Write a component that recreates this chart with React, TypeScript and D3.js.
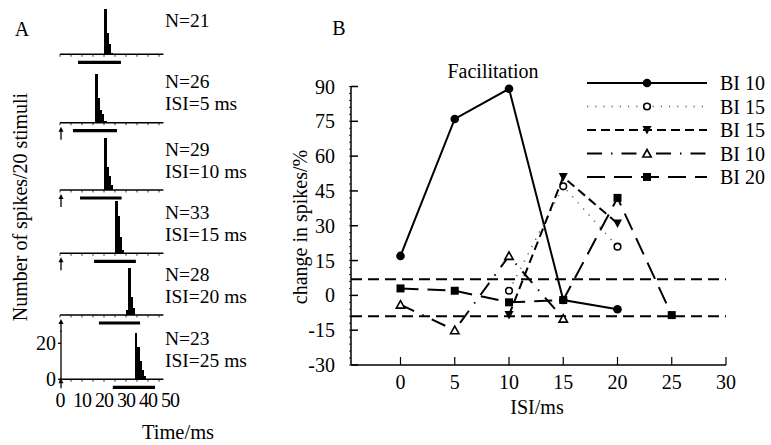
import React from 'react';
import * as d3 from 'd3';

// ---------- Panel B data ----------
const isiTicks = [0, 5, 10, 15, 20, 25, 30];
const changeTicks = [-30, -15, 0, 15, 30, 45, 60, 75, 90];
const legendNames = ['BI 10', 'BI 15', 'BI 15', 'BI 10', 'BI 20'];
const bi10SolidX = [0, 5, 10, 15, 20];
const bi10SolidY = [17, 76, 89, -2, -6];
const bi15DotX = [10, 15, 20];
const bi15DotY = [2, 47, 21];
const bi15DashX = [10, 15, 20];
const bi15DashY = [-8.5, 51, 31];
const bi10DashDotX = [0, 5, 10, 15];
const bi10DashDotY = [-4, -15, 17, -10];
const bi20LongX = [0, 5, 10, 15, 20, 25];
const bi20LongY = [3, 2, -3, -2, 42, -8.5];
const thresholds = [7, -9];

// ---------- Panel A data ----------
const histN = [21, 26, 29, 33, 28, 23];
const histISI = [null, 5, 10, 15, 20, 25];
const histStart = [20, 16, 20, 25, 30, 34];
const histCounts = [
  [25, 12, 6, 1],
  [27, 14, 7, 5, 1],
  [29, 13, 8, 3],
  [29, 21, 9, 2],
  [3, 26, 10, 4],
  [26, 18, 10, 5, 2],
];
const stimOn = [8.2, 5.9, 9.1, 15.5, 17.7, 24];
const stimOff = [27.7, 25.9, 28, 34.5, 36.4, 43.2];
const timeTicks = [0, 10, 20, 30, 40, 50];
const countTicks = [0, 20];

const FONT = '"Liberation Serif", "Times New Roman", serif';

type Marker = 'circle' | 'ocircle' | 'tridown' | 'otri' | 'square';

function MarkerShape({ kind, x, y }: { kind: Marker; x: number; y: number }) {
  if (kind === 'circle') return <circle cx={x} cy={y} r={4.3} fill="#000" />;
  if (kind === 'ocircle')
    return <circle cx={x} cy={y} r={3.3} fill="#fff" stroke="#000" strokeWidth={1.6} />;
  if (kind === 'square')
    return <rect x={x - 4} y={y - 4} width={8} height={8} fill="#000" />;
  if (kind === 'tridown')
    return <path d={`M${x - 4.5},${y - 4} L${x + 4.5},${y - 4} L${x},${y + 4.5} Z`} fill="#000" />;
  return (
    <path
      d={`M${x - 4.2},${y + 3.5} L${x + 4.2},${y + 3.5} L${x},${y - 4} Z`}
      fill="#fff"
      stroke="#000"
      strokeWidth={1.6}
    />
  );
}

export default function App() {
  // Panel B scales
  const xB = d3.scaleLinear().domain([0, 30]).range([400.5, 726]);
  const yB = d3.scaleLinear().domain([-30, 90]).range([365, 86.5]);
  const axisX0 = 351;

  const series = [
    { xs: bi10SolidX, ys: bi10SolidY, dash: undefined, marker: 'circle' as Marker, stroke: '#000', sw: 2 },
    { xs: bi15DotX, ys: bi15DotY, dash: '1.2,7', marker: 'ocircle' as Marker, stroke: '#666', sw: 1.6 },
    { xs: bi15DashX, ys: bi15DashY, dash: '9,5', marker: 'tridown' as Marker, stroke: '#000', sw: 2 },
    { xs: bi10DashDotX, ys: bi10DashDotY, dash: '15,9,1.5,9', marker: 'otri' as Marker, stroke: '#000', sw: 2 },
    { xs: bi20LongX, ys: bi20LongY, dash: '18,9', marker: 'square' as Marker, stroke: '#000', sw: 2 },
  ];
  const line = d3
    .line<[number, number]>()
    .x((d) => xB(d[0]))
    .y((d) => yB(d[1]));

  // Panel A scales
  const xA = d3.scaleLinear().domain([0, 50]).range([60, 170]);
  const yA = d3.scaleLinear().domain([0, 20]).range([0, 36]);
  const rowBase = [54.3, 122.7, 190, 253.3, 315, 379.3];
  const binW = xA(1) - xA(0);
  const minorTicks = d3.range(0, 48, 5);
  const yMinor = d3.range(-30, 91, 3);

  return (
    <svg
      width={771}
      height={445}
      style={{ position: 'absolute', left: 0, top: 0, background: '#fff' }}
      fontFamily={FONT}
      fontSize={20}
    >
      <rect width={771} height={445} fill="#fff" />

      {/* ---------------- Panel A ---------------- */}
      <text x={22} y={36} textAnchor="middle">A</text>
      <text transform="translate(20,207) rotate(-90)" textAnchor="middle" dominantBaseline="central">
        Number of spikes/20 stimuli
      </text>
      {rowBase.map((b, i) => (
        <g key={i}>
          <line x1={xA(0)} x2={xA(47)} y1={b} y2={b} stroke="#000" strokeWidth={1.6} />
          {minorTicks.map((t) => (
            <line key={t} x1={xA(t)} x2={xA(t)} y1={b} y2={b + 2.5} stroke="#000" strokeWidth={0.8} />
          ))}
          {histCounts[i].map((c, j) => (
            <rect
              key={j}
              x={xA(histStart[i] + j)}
              y={b - yA(c)}
              width={binW + 0.4}
              height={yA(c)}
              fill="#000"
              shapeRendering="crispEdges"
            />
          ))}
          <line
            x1={xA(stimOn[i])}
            x2={xA(stimOff[i])}
            y1={b + 8}
            y2={b + 8}
            stroke="#000"
            strokeWidth={3.2}
          />
          {i > 0 && (
            <g>
              <line
                x1={xA(0) + 1}
                x2={xA(0) + 1}
                y1={b + (i === 5 ? 3 : 7)}
                y2={b + (i === 5 ? 9 : 17)}
                stroke="#000"
                strokeWidth={1.3}
              />
              <path
                d={`M${xA(0) - 1.5},${b + (i === 5 ? 4 : 9)} L${xA(0) + 3.5},${b + (i === 5 ? 4 : 9)} L${xA(0) + 1},${b + (i === 5 ? -0.5 : 4)} Z`}
                fill="#000"
              />
            </g>
          )}
          <text x={165} y={b - (i === 0 ? 34 : 41) + 6.5} fontSize={19.5}>{`N=${histN[i]}`}</text>
          {histISI[i] !== null && (
            <text x={165} y={b - 19 + 6.5} fontSize={19.5}>{`ISI=${histISI[i]} ms`}</text>
          )}
        </g>
      ))}
      {/* count axis on the last row */}
      <line x1={61} x2={61} y1={rowBase[5]} y2={rowBase[5] - yA(27)} stroke="#000" strokeWidth={1.3} />
      {countTicks.map((c) => (
        <g key={c}>
          <line x1={58} x2={61} y1={rowBase[5] - yA(c)} y2={rowBase[5] - yA(c)} stroke="#000" strokeWidth={1.3} />
          <text x={56} y={rowBase[5] - yA(c) + 7} textAnchor="end">{c}</text>
        </g>
      ))}
      {timeTicks.map((t) => (
        <text key={t} x={xA(t)} y={406.5} textAnchor="middle" letterSpacing={-1}>{t}</text>
      ))}
      <text x={178} y={439} textAnchor="middle" fontSize={20.5}>Time/ms</text>

      {/* ---------------- Panel B ---------------- */}
      <text x={339} y={35} textAnchor="middle">B</text>
      <text x={493} y={78} textAnchor="middle">Facilitation</text>
      <text transform="translate(300,227) rotate(-90)" textAnchor="middle" dominantBaseline="central">
        change in spikes/%
      </text>

      {/* axes */}
      <line x1={axisX0} x2={axisX0} y1={yB(90)} y2={yB(-30)} stroke="#000" strokeWidth={1.5} />
      <line x1={axisX0} x2={xB(30)} y1={yB(-30)} y2={yB(-30)} stroke="#000" strokeWidth={1.5} />
      {yMinor.map((v) => (
        <line key={v} x1={axisX0 - 2} x2={axisX0} y1={yB(v)} y2={yB(v)} stroke="#000" strokeWidth={0.8} />
      ))}
      {changeTicks.map((v) => (
        <g key={v}>
          <line x1={axisX0} x2={axisX0 + 7} y1={yB(v)} y2={yB(v)} stroke="#000" strokeWidth={1.5} />
          <text x={335} y={yB(v) + 7} textAnchor="end">{v}</text>
        </g>
      ))}
      {isiTicks.map((v) => (
        <g key={v}>
          <line x1={xB(v)} x2={xB(v)} y1={yB(-30)} y2={yB(-30) - 8} stroke="#000" strokeWidth={1.2} />
          <text x={xB(v)} y={389} textAnchor="middle">{v}</text>
        </g>
      ))}
      <text x={537} y={414} textAnchor="middle">ISI/ms</text>

      {/* threshold lines */}
      {thresholds.map((v) => (
        <line
          key={v}
          x1={axisX0}
          x2={xB(30)}
          y1={yB(v)}
          y2={yB(v)}
          stroke="#000"
          strokeWidth={2}
          strokeDasharray="11,6"
        />
      ))}

      {/* series */}
      {series.map((s, i) => {
        const pts = s.xs.map((x, j) => [x, s.ys[j]] as [number, number]);
        return (
          <g key={i}>
            <path
              d={line(pts) || ''}
              fill="none"
              stroke={s.stroke}
              strokeWidth={s.sw}
              strokeDasharray={s.dash}
            />
            {pts.map((p, j) => (
              <MarkerShape key={j} kind={s.marker} x={xB(p[0])} y={yB(p[1])} />
            ))}
          </g>
        );
      })}

      {/* legend */}
      {series.map((s, i) => {
        const ly = 83 + i * 23.5;
        return (
          <g key={i}>
            <line
              x1={587}
              x2={707}
              y1={ly}
              y2={ly}
              stroke={s.stroke}
              strokeWidth={s.sw}
              strokeDasharray={s.dash}
            />
            <MarkerShape kind={s.marker} x={647} y={ly} />
            <text x={720} y={ly + 7}>{legendNames[i]}</text>
          </g>
        );
      })}
    </svg>
  );
}
